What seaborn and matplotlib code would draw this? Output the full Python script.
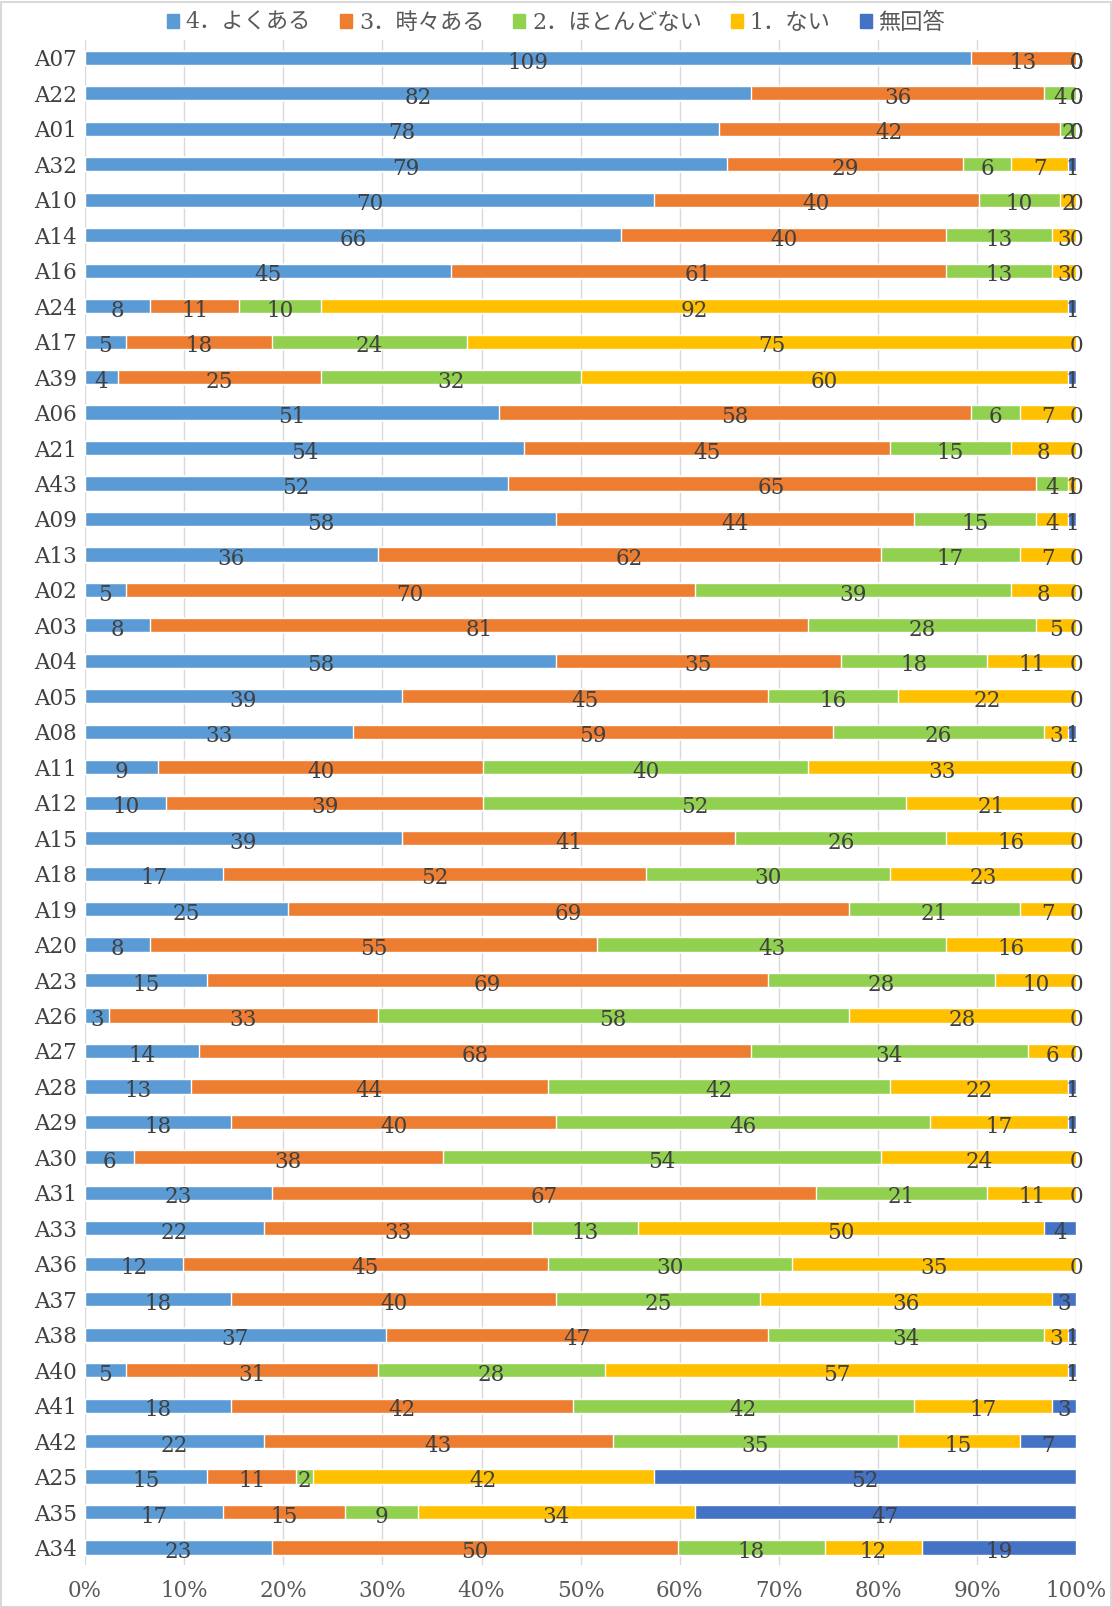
import seaborn as sns
import matplotlib.pyplot as plt
import matplotlib.patches as mpatches
import pandas as pd
import numpy as np

items = ['A07', 'A22', 'A01', 'A32', 'A10', 'A14', 'A16', 'A24', 'A17', 'A39',
         'A06', 'A21', 'A43', 'A09', 'A13', 'A02', 'A03', 'A04', 'A05', 'A08',
         'A11', 'A12', 'A15', 'A18', 'A19', 'A20', 'A23', 'A26', 'A27', 'A28',
         'A29', 'A30', 'A31', 'A33', 'A36', 'A37', 'A38', 'A40', 'A41', 'A42',
         'A25', 'A35', 'A34']

often = [109, 82, 78, 79, 70, 66, 45, 8, 5, 4,
         51, 54, 52, 58, 36, 5, 8, 58, 39, 33,
         9, 10, 39, 17, 25, 8, 15, 3, 14, 13,
         18, 6, 23, 22, 12, 18, 37, 5, 18, 22,
         15, 17, 23]
sometimes = [13, 36, 42, 29, 40, 40, 61, 11, 18, 25,
             58, 45, 65, 44, 62, 70, 81, 35, 45, 59,
             40, 39, 41, 52, 69, 55, 69, 33, 68, 44,
             40, 38, 67, 33, 45, 40, 47, 31, 42, 43,
             11, 15, 50]
rarely = [0, 4, 2, 6, 10, 13, 13, 10, 24, 32,
          6, 15, 4, 15, 17, 39, 28, 18, 16, 26,
          40, 52, 26, 30, 21, 43, 28, 58, 34, 42,
          46, 54, 21, 13, 30, 25, 34, 28, 42, 35,
          2, 9, 18]
never = [0, 0, 0, 7, 2, 3, 3, 92, 75, 60,
         7, 8, 1, 4, 7, 8, 5, 11, 22, 3,
         33, 21, 16, 23, 7, 16, 10, 28, 6, 22,
         17, 24, 11, 50, 35, 36, 3, 57, 17, 15,
         42, 34, 12]
no_answer = [0, 0, 0, 1, 0, 0, 0, 1, 0, 1,
             0, 0, 0, 1, 0, 0, 0, 0, 0, 1,
             0, 0, 0, 0, 0, 0, 0, 0, 0, 1,
             1, 0, 0, 4, 0, 3, 1, 1, 3, 7,
             52, 47, 19]

series_names = ['4．よくある', '3．時々ある', '2．ほとんどない', '1．ない', '無回答']
colors = ['#5B9BD5', '#ED7D31', '#92D050', '#FFC000', '#4472C4']

df = pd.DataFrame({'item': items, series_names[0]: often, series_names[1]: sometimes,
                   series_names[2]: rarely, series_names[3]: never,
                   series_names[4]: no_answer})
counts = df[series_names].to_numpy(dtype=float)
total = counts.sum(axis=1, keepdims=True)
pct = counts / total * 100
cum = np.cumsum(pct, axis=1)

sns.set_style('white')
plt.rcParams['font.family'] = ['DejaVu Serif', 'Noto Sans CJK JP']

fig = plt.figure(figsize=(11.12, 16.07), dpi=100)
ax = fig.add_axes([0.0765, 0.026, 0.8915, 0.949])

# stacked bars: draw cumulative totals from the widest down
for i in range(len(series_names) - 1, -1, -1):
    plot_df = pd.DataFrame({'item': items, 'value': cum[:, i]})
    sns.barplot(data=plot_df, y='item', x='value', color=colors[i], orient='h',
                width=0.4, saturation=1, ax=ax, order=items, zorder=2)

# data labels in the middle of each segment (zeros too, like the original)
for r in range(len(items)):
    left = 0
    for i in range(len(series_names)):
        w = pct[r, i]
        ax.text(left + w / 2, r + 0.13, f'{int(counts[r, i])}', ha='center', va='center',
                fontsize=15.5, color='#404040', zorder=3)
        left += w

ax.set_xlim(0, 100)
ax.set_ylim(len(items) - 0.5, -0.5)
ax.set_xticks(np.arange(0, 101, 10))
ax.set_xticklabels([f'{v}%' for v in range(0, 101, 10)], fontsize=15.5, color='#595959')
ax.tick_params(axis='x', length=0, pad=11)
ax.tick_params(axis='y', length=0, pad=6, labelsize=15.5, labelcolor='#404040')
ax.set_xlabel('')
ax.set_ylabel('')
ax.xaxis.grid(True, color='#D9D9D9', linewidth=1, zorder=0)
ax.set_axisbelow(True)
for s in ax.spines.values():
    s.set_visible(False)

handles = [mpatches.Patch(color=c, label=n) for c, n in zip(colors, series_names)]
fig.legend(handles=handles, loc='upper center', bbox_to_anchor=(0.5, 1.005), ncol=5,
           frameon=False, fontsize=16, handlelength=0.55, handleheight=0.55,
           handletextpad=0.3, columnspacing=1.3, labelcolor='#595959')

fig.patches.append(mpatches.Rectangle((0.001, 0.0), 0.998, 0.999, transform=fig.transFigure,
                                      fill=False, edgecolor='#D9D9D9', linewidth=1.5))

plt.savefig('out.png', dpi=100)
